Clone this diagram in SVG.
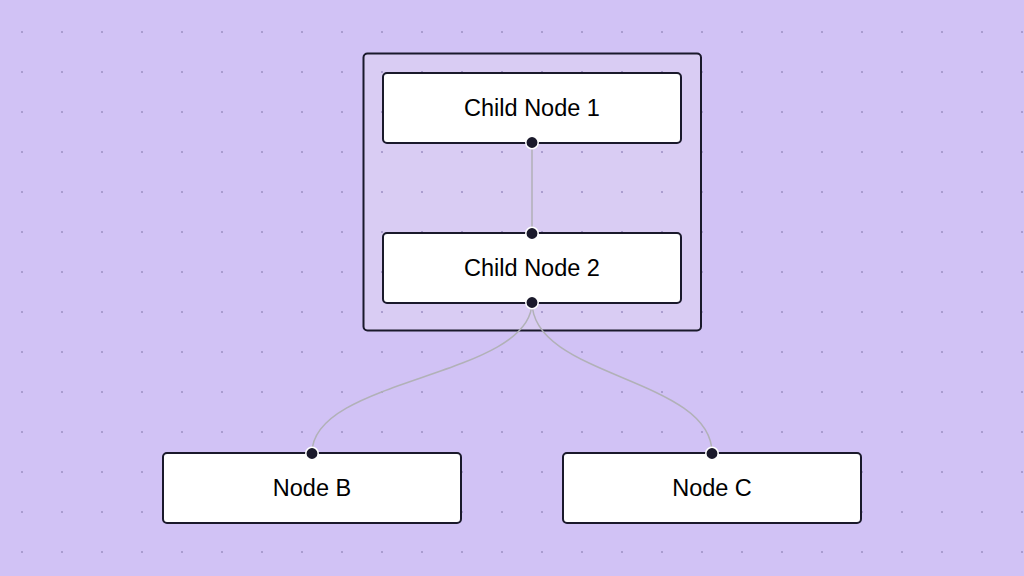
<svg xmlns="http://www.w3.org/2000/svg" width="1024" height="576" viewBox="0 0 1024 576">
  <defs>
    <pattern id="dots" x="2" y="12" width="40" height="40" patternUnits="userSpaceOnUse">
      <circle cx="20" cy="20" r="1" fill="#9e90c4"/>
    </pattern>
    <style>
      .node rect { fill: #ffffff; stroke: #1a192b; stroke-width: 2; }
      .group rect { fill: #d9cdf3; fill-opacity: 0.9; stroke: #1a192b; stroke-width: 2; }
      .label { font-family: "Liberation Sans", Arial, sans-serif; font-size: 23.5px; fill: #000000; text-anchor: middle; }
      .edge { fill: none; stroke: #b1b1b7; stroke-width: 1.5; }
      .handle { fill: #1a192b; stroke: #ffffff; stroke-width: 1.5; }
    </style>
  </defs>
  <rect width="1024" height="576" fill="#d1c2f5"/>
  <rect width="1024" height="576" fill="url(#dots)"/>

  <g id="group-a" class="group">
    <rect x="363.5" y="53.5" width="337.5" height="277" rx="4"/>
  </g>
  <rect x="364.5" y="54.5" width="335.5" height="275" rx="3.5" fill="url(#dots)"/>

  <g id="edges">
    <path class="edge" d="M532,142 L532,233"/>
    <path class="edge" d="M532,302 C532,377.5 312,377.5 312,453"/>
    <path class="edge" d="M532,302 C532,377.5 712,377.5 712,453"/>
  </g>

  <g id="child-node-1" class="node">
    <rect x="383" y="73" width="298" height="70" rx="4"/>
    <text class="label" x="532" y="116">Child Node 1</text>
    <circle class="handle" cx="532" cy="142.5" r="6.2"/>
  </g>

  <g id="child-node-2" class="node">
    <rect x="383" y="233" width="298" height="70" rx="4"/>
    <text class="label" x="532" y="276">Child Node 2</text>
    <circle class="handle" cx="532" cy="233.5" r="6.2"/>
    <circle class="handle" cx="532" cy="302.5" r="6.2"/>
  </g>

  <g id="node-b" class="node">
    <rect x="163" y="453" width="298" height="70" rx="4"/>
    <text class="label" x="312" y="496">Node B</text>
    <circle class="handle" cx="312" cy="453.5" r="6.2"/>
  </g>

  <g id="node-c" class="node">
    <rect x="563" y="453" width="298" height="70" rx="4"/>
    <text class="label" x="712" y="496">Node C</text>
    <circle class="handle" cx="712" cy="453.5" r="6.2"/>
  </g>
</svg>
